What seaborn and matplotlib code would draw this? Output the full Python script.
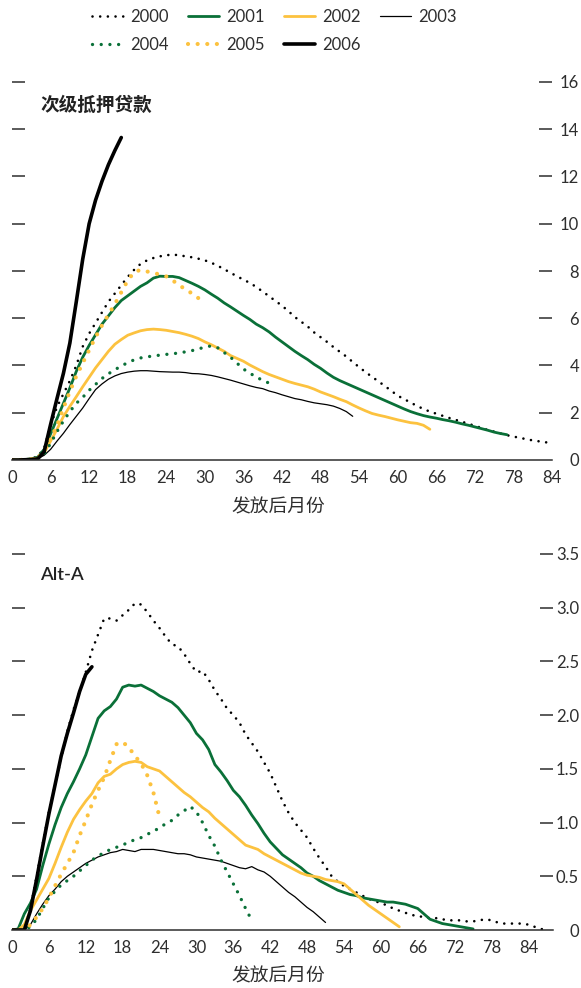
import numpy as np
import pandas as pd
import matplotlib
matplotlib.use("Agg")
import matplotlib.pyplot as plt
import seaborn as sns

# ---------------------------------------------------------------- data
years = ["2000", "2001", "2002", "2003", "2004", "2005", "2006"]
x_ticks = list(range(0, 85, 6))

# 次级抵押贷款: monthly values from month 0 after origination
sub_2000 = [0, 0, 0.02, 0.05, 0.15, 0.5, 1.45, 2.25, 2.8, 3.35,
            4.0, 4.8, 5.35, 5.8, 6.25, 6.7, 7.05, 7.4, 7.75, 8.05,
            8.3, 8.45, 8.55, 8.62, 8.67, 8.69, 8.67, 8.62, 8.58, 8.52,
            8.45, 8.35, 8.22, 8.08, 7.92, 7.78, 7.63, 7.5, 7.32, 7.13,
            6.93, 6.73, 6.53, 6.3, 6.05, 5.85, 5.65, 5.4, 5.2, 5.0,
            4.78, 4.58, 4.38, 4.15, 3.93, 3.72, 3.52, 3.33, 3.13, 2.93,
            2.72, 2.58, 2.43, 2.29, 2.16, 2.05, 1.96, 1.87, 1.78, 1.7,
            1.62, 1.53, 1.45, 1.36, 1.27, 1.2, 1.12, 1.05, 0.99, 0.94,
            0.88, 0.83, 0.79, 0.75, 0.72]
sub_2001 = [0, 0, 0.02, 0.05, 0.12, 0.45, 1.1, 1.75, 2.4, 3.05,
            3.75, 4.35, 4.85, 5.3, 5.75, 6.1, 6.45, 6.75, 6.95, 7.15,
            7.35, 7.5, 7.7, 7.78, 7.77, 7.77, 7.72, 7.6, 7.48, 7.35,
            7.2, 7.02, 6.85, 6.65, 6.48, 6.3, 6.12, 5.95, 5.75, 5.6,
            5.42, 5.2, 5.0, 4.8, 4.6, 4.42, 4.25, 4.05, 3.88, 3.68,
            3.5, 3.36, 3.24, 3.12, 3.0, 2.88, 2.76, 2.64, 2.52, 2.4,
            2.28, 2.16, 2.05, 1.96, 1.88, 1.82, 1.77, 1.71, 1.66, 1.6,
            1.53, 1.47, 1.4, 1.33, 1.26, 1.18, 1.12, 1.07]
sub_2002 = [0, 0, 0.02, 0.04, 0.08, 0.3, 0.8, 1.3, 1.84, 2.27,
            2.68, 3.1, 3.5, 3.9, 4.25, 4.6, 4.9, 5.1, 5.28, 5.38,
            5.47, 5.52, 5.54, 5.52, 5.49, 5.44, 5.39, 5.32, 5.24, 5.14,
            5.0, 4.88, 4.74, 4.6, 4.42, 4.3, 4.18, 4.02, 3.88, 3.74,
            3.62, 3.52, 3.42, 3.32, 3.24, 3.17, 3.1, 3.0, 2.88, 2.78,
            2.68, 2.57, 2.47, 2.33, 2.2, 2.08, 1.97, 1.9, 1.84, 1.77,
            1.7, 1.64, 1.58, 1.55, 1.47, 1.3]
sub_2003 = [0, 0, 0.01, 0.03, 0.06, 0.2, 0.45, 0.8, 1.13, 1.5,
            1.85, 2.2, 2.6, 2.98, 3.22, 3.42, 3.56, 3.66, 3.72, 3.76,
            3.78, 3.78, 3.76, 3.74, 3.73, 3.72, 3.72, 3.7, 3.66, 3.65,
            3.62, 3.58, 3.52, 3.45, 3.38, 3.3, 3.22, 3.14, 3.07, 3.02,
            2.92, 2.85, 2.76, 2.68, 2.6, 2.55, 2.48, 2.42, 2.38, 2.34,
            2.28, 2.18, 2.05, 1.85]
sub_2004 = [0, 0, 0.01, 0.03, 0.06, 0.25, 0.7, 1.2, 1.65, 2.05,
            2.4, 2.65, 2.95, 3.2, 3.45, 3.65, 3.82, 3.98, 4.12, 4.24,
            4.32, 4.37, 4.4, 4.44, 4.47, 4.5, 4.53, 4.58, 4.63, 4.7,
            4.78, 4.83, 4.75, 4.55, 4.35, 4.1, 3.85, 3.68, 3.5, 3.38,
            3.25, 3.15]
sub_2005 = [0, 0, 0.01, 0.03, 0.08, 0.4, 0.9, 1.45, 2.2, 2.9,
            3.55, 4.1, 4.65, 5.2, 5.7, 6.15, 6.6, 7.1, 7.6, 7.95,
            8.05, 7.98, 7.92, 7.85, 7.77, 7.6, 7.4, 7.22, 7.05, 6.85]
sub_2006 = [0, 0, 0.01, 0.02, 0.05, 0.35, 1.5, 2.6, 3.67, 4.95,
            6.7, 8.5, 10.0, 11.0, 11.8, 12.5, 13.1, 13.65]
sub_yticks = [0, 2, 4, 6, 8, 10, 12, 14, 16]
sub_ylabels = ["0", "2", "4", "6", "8", "10", "12", "14", "16"]

# Alt-A: monthly values from month 0 after origination
alt_2000 = [0, 0, 0.02, 0.2, 0.5, 0.8, 1.1, 1.35, 1.6, 1.85,
            2.05, 2.22, 2.4, 2.6, 2.75, 2.9, 2.9, 2.88, 2.93, 2.98,
            3.04, 3.03, 2.96, 2.88, 2.81, 2.73, 2.66, 2.64, 2.57, 2.48,
            2.4, 2.41, 2.33, 2.23, 2.15, 2.06, 2.0, 1.93, 1.82, 1.74,
            1.66, 1.56, 1.46, 1.33, 1.2, 1.09, 1.0, 0.93, 0.86, 0.76,
            0.67, 0.59, 0.5, 0.45, 0.41, 0.38, 0.35, 0.32, 0.29, 0.27,
            0.25, 0.23, 0.2, 0.18, 0.16, 0.14, 0.13, 0.12, 0.11, 0.11,
            0.1, 0.09, 0.09, 0.09, 0.08, 0.08, 0.09, 0.1, 0.09, 0.07,
            0.06, 0.06, 0.06, 0.06, 0.05, 0.03, 0.01, 0.0]
alt_2001 = [0, 0.01, 0.15, 0.25, 0.38, 0.6, 0.8, 0.98, 1.14, 1.27,
            1.38, 1.5, 1.63, 1.8, 1.97, 2.04, 2.08, 2.15, 2.26, 2.28,
            2.27, 2.28, 2.25, 2.22, 2.18, 2.15, 2.12, 2.07, 2.0, 1.93,
            1.83, 1.77, 1.68, 1.54, 1.47, 1.39, 1.3, 1.24, 1.16, 1.07,
            0.99, 0.9, 0.82, 0.76, 0.7, 0.66, 0.62, 0.58, 0.53, 0.5,
            0.46, 0.43, 0.4, 0.37, 0.35, 0.33, 0.32, 0.3, 0.29, 0.28,
            0.27, 0.26, 0.26, 0.25, 0.24, 0.22, 0.2, 0.15, 0.1, 0.08,
            0.06, 0.05, 0.04, 0.03, 0.02, 0.01]
alt_2002 = [0, 0, 0.05, 0.18, 0.28, 0.38, 0.48, 0.62, 0.77, 0.91,
            1.03, 1.12, 1.2, 1.27, 1.37, 1.43, 1.45, 1.5, 1.54, 1.56,
            1.57, 1.56, 1.52, 1.5, 1.48, 1.43, 1.38, 1.33, 1.28, 1.24,
            1.19, 1.14, 1.1, 1.04, 0.99, 0.94, 0.89, 0.84, 0.79, 0.77,
            0.75, 0.71, 0.68, 0.65, 0.62, 0.59, 0.56, 0.53, 0.51, 0.5,
            0.49, 0.47, 0.46, 0.45, 0.43, 0.38, 0.33, 0.28, 0.23, 0.19,
            0.15, 0.11, 0.07, 0.03]
alt_2003 = [0, 0, 0, 0.05, 0.15, 0.24, 0.32, 0.38, 0.45, 0.5,
            0.54, 0.58, 0.62, 0.65, 0.68, 0.7, 0.72, 0.73, 0.75, 0.74,
            0.73, 0.75, 0.75, 0.75, 0.74, 0.73, 0.72, 0.71, 0.71, 0.7,
            0.68, 0.67, 0.66, 0.65, 0.64, 0.62, 0.6, 0.58, 0.57, 0.59,
            0.56, 0.54, 0.5, 0.45, 0.4, 0.35, 0.31, 0.26, 0.21, 0.17,
            0.12, 0.07]
alt_2004 = [0, 0, 0, 0.03, 0.1, 0.2, 0.3, 0.36, 0.42, 0.46,
            0.5, 0.55, 0.6, 0.65, 0.69, 0.72, 0.75, 0.77, 0.79, 0.82,
            0.84, 0.86, 0.89, 0.92, 0.95, 0.99, 1.02, 1.07, 1.11, 1.15,
            1.1, 1.0, 0.88, 0.78, 0.65, 0.54, 0.43, 0.32, 0.2, 0.09]
alt_2005 = [0, 0, 0, 0.05, 0.12, 0.2, 0.3, 0.41, 0.52, 0.62,
            0.72, 0.88, 1.02, 1.17, 1.3, 1.42, 1.58, 1.73, 1.75, 1.7,
            1.62, 1.55, 1.44, 1.28, 1.05]
alt_2006 = [0, 0, 0, 0.18, 0.47, 0.78, 1.08, 1.35, 1.62, 1.83,
            2.02, 2.22, 2.38, 2.45]
alt_yticks = [0, 0.5, 1.0, 1.5, 2.0, 2.5, 3.0, 3.5]
alt_ylabels = ["0", "0.5", "1.0", "1.5", "2.0", "2.5", "3.0", "3.5"]

# ---------------------------------------------------------------- style
sns.set_style("white")
plt.rcParams["font.family"] = ["Lato", "Noto Sans CJK SC", "DejaVu Sans"]

GREEN = "#0a7038"
GOLD = "#fcc23f"
INK = "#2e2e2e"

line_styles = {
    "2000": dict(color="black", lw=1.9, linestyle=(0, (0.01, 2.9)), dash_capstyle="round"),
    "2001": dict(color=GREEN, lw=2.0, linestyle="-"),
    "2002": dict(color=GOLD, lw=2.0, linestyle="-"),
    "2003": dict(color="black", lw=0.9, linestyle="-"),
    "2004": dict(color=GREEN, lw=2.4, linestyle=(0, (0.01, 2.6)), dash_capstyle="round"),
    "2005": dict(color=GOLD, lw=3.0, linestyle=(0, (0.01, 2.3)), dash_capstyle="round"),
    "2006": dict(color="black", lw=2.6, linestyle="-"),
}

W, H = 581, 988
fig = plt.figure(figsize=(W / 100, H / 100), dpi=100)
ax_sub = fig.add_axes([12 / W, (H - 460) / H, 540 / W, 378 / H])
ax_alt = fig.add_axes([12 / W, (H - 930) / H, 541 / W, 376 / H])


def draw_panel(ax, series, xmax, yticks, ylabels, label_pad):
    for yr, vals in zip(years, series):
        df = pd.DataFrame({"month": np.arange(len(vals)), "value": vals})
        sns.lineplot(data=df, x="month", y="value", ax=ax, label=yr,
                     **line_styles[yr])
    if ax.get_legend() is not None:
        ax.get_legend().remove()

    ax.set_xlim(0, xmax)
    ax.set_ylim(0, yticks[-1])
    for side in ("left", "right", "top"):
        ax.spines[side].set_visible(False)
    ax.spines["bottom"].set_color(INK)
    ax.spines["bottom"].set_linewidth(1.1)

    ax.set_xticks(x_ticks)
    ax.set_xticklabels([str(v) for v in x_ticks])
    ax.tick_params(axis="x", direction="in", length=6.5, width=1.1, color=INK,
                   labelsize=12, labelcolor=INK, pad=7)

    ax.set_yticks(yticks)
    ax.set_yticklabels(ylabels)
    ax.tick_params(axis="y", direction="in", length=9.5, width=1.1, color=INK,
                   left=True, right=True, labelleft=False, labelright=True,
                   labelsize=12, labelcolor=INK, pad=label_pad)
    for lbl in ax.yaxis.get_majorticklabels():
        lbl.set_horizontalalignment("right")
    zero_tick = ax.yaxis.get_major_ticks()[0]
    zero_tick.tick1line.set_visible(False)
    zero_tick.tick2line.set_visible(False)
    ax.grid(False)


draw_panel(ax_sub, [sub_2000, sub_2001, sub_2002, sub_2003, sub_2004, sub_2005, sub_2006],
           84, sub_yticks, sub_ylabels, 19.4)
draw_panel(ax_alt, [alt_2000, alt_2001, alt_2002, alt_2003, alt_2004, alt_2005, alt_2006],
           88, alt_yticks, alt_ylabels, 18.7)

# axis titles
ax_sub.set_xlabel("发放后月份", fontsize=13.5, color=INK, va="center")
ax_sub.set_ylabel("")
ax_sub.xaxis.set_label_coords((278 - 12) / 540, -(507 - 460) / 378)
ax_alt.set_xlabel("发放后月份", fontsize=13.5, color=INK, va="center")
ax_alt.set_ylabel("")
ax_alt.xaxis.set_label_coords((278 - 12) / 541, -(976 - 930) / 376)

# panel titles
fig.text(40 / W, 1 - 105 / H, "次级抵押贷款", fontsize=13.4, fontweight="bold",
         color="#222222", ha="left", va="center")
fig.text(40 / W, 1 - 575 / H, "Alt-A", fontsize=13.3, fontweight="semibold",
         color="#222222", ha="left", va="center")

# legend: two rows, 2000-2003 above, 2004-2006 below
handles, labels = ax_sub.get_legend_handles_labels()
order = [0, 4, 1, 5, 2, 6, 3]
fig.legend([handles[i] for i in order], [labels[i] for i in order],
           ncol=4, loc="upper left", bbox_to_anchor=(92 / W, 1 - 9 / H),
           frameon=False, fontsize=12, handlelength=1.85, handletextpad=0.45,
           columnspacing=1.15, labelspacing=0.72, borderpad=0, borderaxespad=0,
           labelcolor=INK)

fig.savefig("out.png", dpi=100)
